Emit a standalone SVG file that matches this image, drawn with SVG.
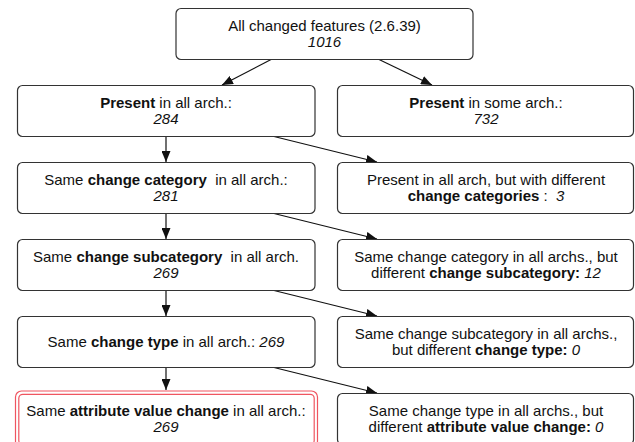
<svg xmlns="http://www.w3.org/2000/svg" width="635" height="442" viewBox="0 0 635 442">
<defs>
<marker id="ah" markerUnits="userSpaceOnUse" markerWidth="11" markerHeight="9" refX="11" refY="4.5" orient="auto">
<path d="M0,0 L11,4.5 L0,9 z" fill="#111"/>
</marker>
<style>
.box{fill:#fff;stroke:#333;stroke-width:1.2}
.red{fill:none;stroke:#ef5560;stroke-width:1.2}
.t{font-family:"Liberation Sans",Arial,sans-serif;font-size:15px;fill:#111;text-anchor:middle}
.b{font-weight:bold}
.i{font-style:italic}
.c line{stroke:#111;stroke-width:1.2;marker-end:url(#ah)}
</style>
</defs>
<rect width="635" height="442" fill="#fff"/>
<g class="c" id="connectors">
<line x1="272" y1="59" x2="222" y2="85"/>
<line x1="378" y1="59" x2="432" y2="85"/>
<line x1="166" y1="136" x2="166" y2="162"/>
<line x1="166" y1="213" x2="166" y2="239"/>
<line x1="166" y1="290" x2="166" y2="316"/>
<line x1="166" y1="367" x2="166" y2="390"/>
<line x1="272" y1="136" x2="377" y2="162"/>
<line x1="272" y1="213" x2="377" y2="239"/>
<line x1="272" y1="290" x2="377" y2="316"/>
<line x1="272" y1="367" x2="377" y2="393"/>
</g>
<g id="n-all">
<rect class="box" x="176" y="8.5" width="297" height="51" rx="5"/>
<text class="t" x="324.5" y="30.5">All changed features (2.6.39)</text>
<text class="t i" x="324.5" y="46.5">1016</text>
</g>
<g id="n-present-all">
<rect class="box" x="17.5" y="85.5" width="297.5" height="51" rx="5"/>
<text class="t" x="166" y="107.5"><tspan class="b">Present</tspan> in all arch.:</text>
<text class="t i" x="166" y="123.5">284</text>
</g>
<g id="n-present-some">
<rect class="box" x="337.5" y="85.5" width="296" height="51" rx="5"/>
<text class="t" x="486" y="107.5"><tspan class="b">Present</tspan> in some arch.:</text>
<text class="t i" x="486" y="123.5">732</text>
</g>
<g id="n-same-cat">
<rect class="box" x="17.5" y="162.5" width="297.5" height="51" rx="5"/>
<text class="t" x="166" y="184.5" xml:space="preserve">Same <tspan class="b">change category</tspan>  in all arch.:</text>
<text class="t i" x="166" y="200.5">281</text>
</g>
<g id="n-diff-cat">
<rect class="box" x="337.5" y="162.5" width="296" height="51" rx="5"/>
<text class="t" x="486" y="184.5">Present in all arch, but with different</text>
<text class="t" x="486" y="200.5" xml:space="preserve"><tspan class="b">change categories</tspan> :  <tspan class="i">3</tspan></text>
</g>
<g id="n-same-subcat">
<rect class="box" x="17.5" y="239.5" width="297.5" height="51" rx="5"/>
<text class="t" x="166" y="261.5" xml:space="preserve">Same <tspan class="b">change subcategory</tspan>  in all arch.</text>
<text class="t i" x="166" y="277.5">269</text>
</g>
<g id="n-diff-subcat">
<rect class="box" x="337.5" y="239.5" width="296" height="51" rx="5"/>
<text class="t" x="486" y="261.5">Same change category in all archs., but</text>
<text class="t" x="486" y="277.5">different <tspan class="b">change subcategory:</tspan> <tspan class="i">12</tspan></text>
</g>
<g id="n-same-type">
<rect class="box" x="17.5" y="316.5" width="297.5" height="51" rx="5"/>
<text class="t" x="166" y="346.5">Same <tspan class="b">change type</tspan> in all arch.: <tspan class="i">269</tspan></text>
</g>
<g id="n-diff-type">
<rect class="box" x="337.5" y="316.5" width="296" height="51" rx="5"/>
<text class="t" x="486" y="338.5">Same change subcategory in all archs.,</text>
<text class="t" x="486" y="354.5">but different <tspan class="b">change type:</tspan> <tspan class="i">0</tspan></text>
</g>
<g id="n-same-attr">
<rect class="red" x="15.5" y="391" width="302" height="56" rx="6"/>
<rect class="red" x="18.8" y="394.3" width="295.4" height="50" rx="4"/>
<text class="t" x="166" y="415.5">Same <tspan class="b">attribute value change</tspan> in all arch.:</text>
<text class="t i" x="166" y="431.5">269</text>
</g>
<g id="n-diff-attr">
<rect class="box" x="337.5" y="393.5" width="296" height="51" rx="5"/>
<text class="t" x="486" y="415.5">Same change type in all archs., but</text>
<text class="t" x="486" y="431.5">different <tspan class="b">attribute value change:</tspan> <tspan class="i">0</tspan></text>
</g>
</svg>
